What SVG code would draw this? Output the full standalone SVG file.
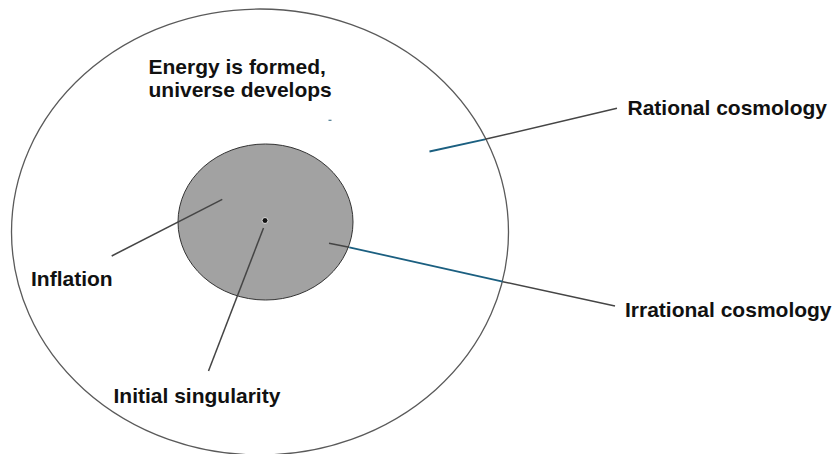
<svg xmlns="http://www.w3.org/2000/svg" width="837" height="454" viewBox="0 0 837 454">
<style>
.lbl{font-family:"Liberation Sans",Arial,sans-serif;font-weight:bold;font-size:21px;fill:#111}
.ln{stroke:#454545;stroke-width:1.5;fill:none}
.bl{stroke:#1b5f80;stroke-width:1.8;fill:none}
</style>
<rect width="837" height="454" fill="#fff"/>
<g id="outer">
<ellipse cx="260" cy="232" rx="248.5" ry="223" fill="#fff" stroke="#5a5a5a" stroke-width="1.3"/>
</g>
<g id="inner">
<ellipse cx="265.5" cy="222" rx="87.5" ry="78" fill="#a2a2a2" stroke="#333" stroke-width="1"/>
</g>
<g id="singularity">
<circle cx="265" cy="220.5" r="3" fill="#111" stroke="#dcdcdc" stroke-width="1"/>
</g>
<g id="connectors">
<line class="bl" x1="429.5" y1="151.5" x2="485" y2="139.3"/>
<line class="ln" x1="485" y1="139.3" x2="617" y2="108.3"/>
<line class="ln" x1="329" y1="243.3" x2="349.3" y2="247.3"/>
<line class="bl" x1="349.3" y1="247.3" x2="502.7" y2="281.7"/>
<line class="ln" x1="502.7" y1="281.7" x2="615" y2="306"/>
<line class="ln" x1="222.3" y1="199.3" x2="111.7" y2="256"/>
<line class="ln" x1="263.5" y1="228" x2="208.5" y2="371"/>
<line x1="328.5" y1="120.3" x2="331.5" y2="120.3" stroke="#4a7a90" stroke-width="1.2"/>
</g>
<g id="label-energy">
<text class="lbl" x="148.5" y="74">Energy is formed,</text>
<text class="lbl" x="148.5" y="97">universe develops</text>
</g>
<g id="label-rational"><text class="lbl" x="627.5" y="115">Rational cosmology</text></g>
<g id="label-irrational"><text class="lbl" x="625" y="317">Irrational cosmology</text></g>
<g id="label-inflation"><text class="lbl" x="31" y="286">Inflation</text></g>
<g id="label-initial"><text class="lbl" x="113.5" y="403">Initial singularity</text></g>
</svg>
